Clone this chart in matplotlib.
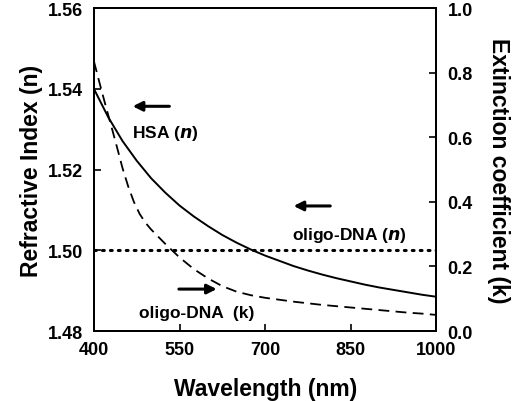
import matplotlib.pyplot as plt

plt.rcParams["font.family"] = ["Liberation Sans", "DejaVu Sans"]
plt.rcParams["font.weight"] = "bold"

# HSA refractive index (left axis)
wl_n = [400, 425, 450, 475, 500, 525, 550, 575, 600, 625, 650, 675, 700,
        725, 750, 775, 800, 825, 850, 875, 900, 925, 950, 975, 1000]
n_hsa = [1.5400, 1.5330, 1.5271, 1.5222, 1.5179, 1.5143, 1.5111, 1.5084,
         1.5060, 1.5038, 1.5019, 1.5002, 1.4987, 1.4974, 1.4961, 1.4950,
         1.4940, 1.4931, 1.4923, 1.4915, 1.4908, 1.4902, 1.4896, 1.4890,
         1.4885]

# oligo-DNA refractive index (constant)
wl_dna = [400, 1000]
n_dna = [1.500, 1.500]

# oligo-DNA extinction coefficient (right axis)
wl_k = [400, 410, 420, 430, 440, 450, 460, 470, 480, 490, 500, 510, 525,
        550, 575, 600, 625, 650, 675, 700, 725, 750, 775, 800, 825, 850,
        875, 900, 925, 950, 975, 1000]
k_dna = [0.835, 0.767, 0.701, 0.637, 0.572, 0.505, 0.448, 0.400, 0.363,
         0.336, 0.315, 0.297, 0.270, 0.228, 0.192, 0.163, 0.139, 0.122,
         0.111, 0.103, 0.097, 0.091, 0.086, 0.081, 0.077, 0.073, 0.069,
         0.065, 0.061, 0.057, 0.054, 0.050]

fig = plt.figure(figsize=(5.25, 4.02), dpi=100)
ax = fig.add_axes([0.179, 0.174, 0.652, 0.803])
ax2 = ax.twinx()

ax.plot(wl_n, n_hsa, color="black", lw=1.4)
ax.plot(wl_dna, n_dna, color="black", lw=2.2, linestyle=(0, (0.6, 2.0)),
        dash_capstyle="round")
ax2.plot(wl_k, k_dna, color="black", lw=1.3, linestyle=(0, (6, 3.5)))

ax.set_xlim(400, 1000)
ax.set_ylim(1.48, 1.56)
ax2.set_ylim(0, 1.0)
ax.set_xticks([400, 550, 700, 850, 1000])
ax.set_yticks([1.48, 1.50, 1.52, 1.54, 1.56])
ax2.set_yticks([0.0, 0.2, 0.4, 0.6, 0.8, 1.0])
ax.set_yticklabels(["1.48", "1.50", "1.52", "1.54", "1.56"])
ax2.set_yticklabels(["0.0", "0.2", "0.4", "0.6", "0.8", "1.0"])

for a in (ax, ax2):
    a.tick_params(direction="in", length=5, width=1.2, labelsize=13, pad=8)
    for s in a.spines.values():
        s.set_linewidth(1.4)
ax.tick_params(axis="x", pad=7)

ax.set_xlabel("Wavelength (nm)", fontsize=16.5, fontweight="bold", labelpad=14)
ax.set_ylabel("Refractive Index (n)", fontsize=16.5, fontweight="bold", labelpad=3)
ax2.set_ylabel("Extinction coefficient (k)", fontsize=16.5, fontweight="bold",
               rotation=270, labelpad=27)

arrow = dict(arrowstyle="-|>", color="black", lw=2.2, mutation_scale=14)
ax.annotate("", xy=(463, 1.5357), xytext=(537, 1.5357), arrowprops=arrow)
ax.text(525, 1.5293, "HSA ($\\bf{\\it{n}}$)", ha="center", va="center",
        fontsize=12.5, fontweight="bold")
ax.annotate("", xy=(745, 1.5110), xytext=(819, 1.5110), arrowprops=arrow)
ax.text(848, 1.5040, "oligo-DNA ($\\bf{\\it{n}}$)", ha="center", va="center",
        fontsize=12.5, fontweight="bold")
ax.annotate("", xy=(620, 1.4904), xytext=(544, 1.4904), arrowprops=arrow)
ax.text(580, 1.4847, "oligo-DNA  (k)", ha="center", va="center",
        fontsize=12.5, fontweight="bold")

fig.savefig("out.png", dpi=100)
